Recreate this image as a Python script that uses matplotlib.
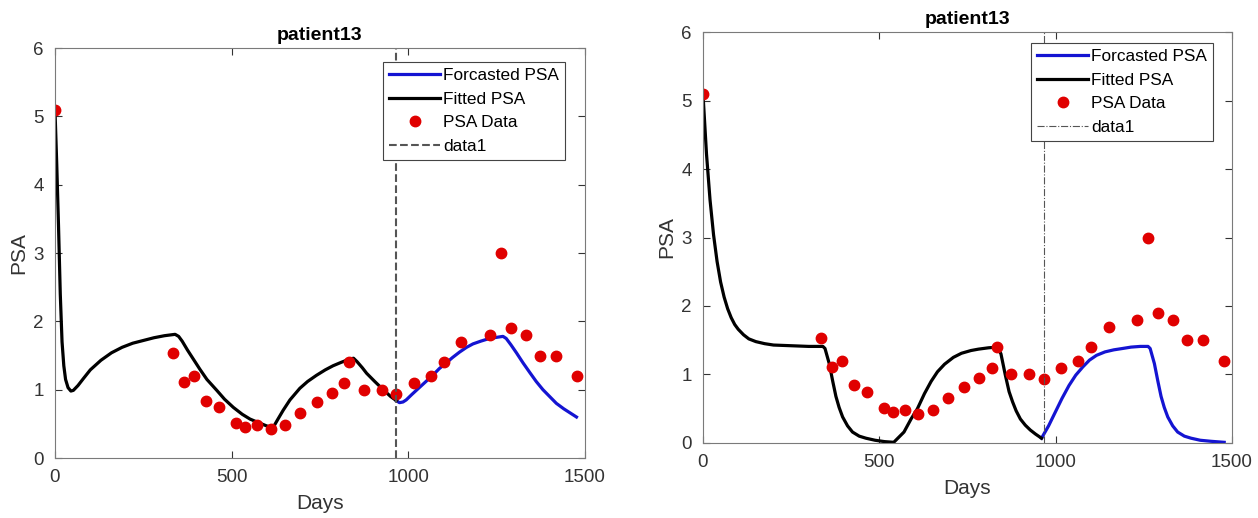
import numpy as np
from matplotlib import pyplot as plt

plt.rcParams['font.family'] = ['Liberation Sans', 'DejaVu Sans']

# PSA measurements (same in both panels)
data_days = [0, 335, 365, 393, 428, 464, 513, 539, 572, 611, 651, 694, 741, 784, 819,
             833, 874, 925, 966, 1015, 1063, 1101, 1150, 1232, 1262, 1291, 1332, 1373, 1418, 1478]
data_psa = [5.1, 1.53, 1.11, 1.2, 0.84, 0.75, 0.51, 0.45, 0.48, 0.43, 0.48, 0.66, 0.82, 0.95, 1.1,
            1.4, 1.0, 1.0, 0.94, 1.1, 1.2, 1.4, 1.7, 1.8, 3.0, 1.9, 1.8, 1.5, 1.5, 1.2]
split_day = 966

# left panel model curves
fit1_days = [0, 5, 10, 15, 20, 25, 30, 37, 45, 52, 65, 80, 100, 130, 160, 190, 220, 250, 280, 310, 340,
             350, 360, 375, 390, 410, 430, 458, 480, 505, 530, 552, 575, 599, 613,
             620, 630, 646, 665, 693, 715, 740, 765, 787, 810, 835, 845,
             855, 870, 882, 905, 929, 950, 966]
fit1_psa = [5.1, 4.3, 3.4, 2.4, 1.7, 1.35, 1.15, 1.03, 0.98, 0.99, 1.06, 1.16, 1.29, 1.43, 1.54, 1.62, 1.68, 1.72, 1.76, 1.79, 1.81,
            1.78, 1.71, 1.58, 1.46, 1.3, 1.15, 0.99, 0.86, 0.74, 0.64, 0.57, 0.52, 0.47, 0.45,
            0.47, 0.56, 0.7, 0.85, 1.02, 1.12, 1.21, 1.29, 1.35, 1.4, 1.45, 1.46,
            1.41, 1.32, 1.24, 1.12, 1.0, 0.9, 0.84]
fc1_days = [966, 975, 985, 994, 1010, 1031, 1050, 1069, 1088, 1107, 1125, 1145, 1165, 1183, 1205, 1230,
            1255, 1268, 1277, 1290, 1306, 1325, 1344, 1362, 1381, 1400, 1419, 1440, 1458, 1476]
fc1_psa = [0.84, 0.81, 0.82, 0.85, 0.93, 1.03, 1.12, 1.21, 1.31, 1.39, 1.47, 1.55, 1.62, 1.67, 1.71, 1.75,
           1.77, 1.78, 1.75, 1.66, 1.54, 1.39, 1.25, 1.12, 1.0, 0.9, 0.8, 0.72, 0.66, 0.6]

# right panel model curves
fit2_days = [0, 10, 20, 30, 40, 50, 60, 70, 80, 90, 100, 115, 130, 150, 175, 200, 250, 300, 340,
             346, 358, 368, 377, 386, 396, 410, 424, 443, 462, 488, 515, 541,
             570, 590, 608, 628, 647, 665, 685, 710, 733, 760, 781, 810, 836,
             845, 857, 868, 878, 888, 900, 914, 928, 943, 960]
fit2_psa = [5.1, 4.22, 3.55, 3.04, 2.65, 2.35, 2.13, 1.96, 1.83, 1.73, 1.66, 1.58, 1.52, 1.48, 1.45, 1.43, 1.42, 1.41, 1.41,
            1.38, 1.16, 0.9, 0.68, 0.52, 0.38, 0.25, 0.16, 0.1, 0.07, 0.04, 0.02, 0.01,
            0.16, 0.35, 0.5, 0.72, 0.9, 1.04, 1.15, 1.25, 1.31, 1.35, 1.37, 1.39, 1.4,
            1.3, 1.0, 0.75, 0.6, 0.47, 0.35, 0.26, 0.19, 0.13, 0.07]
fc2_days = [960, 980, 999, 1018, 1038, 1057, 1077, 1096, 1116, 1140, 1165, 1190, 1214, 1240, 1262,
            1268, 1280, 1290, 1299, 1308, 1318, 1332, 1346, 1365, 1384, 1410, 1440, 1478]
fc2_psa = [0.07, 0.25, 0.45, 0.65, 0.84, 0.99, 1.11, 1.21, 1.28, 1.33, 1.36, 1.38, 1.4, 1.41, 1.41,
           1.38, 1.16, 0.9, 0.68, 0.52, 0.38, 0.25, 0.16, 0.1, 0.07, 0.04, 0.025, 0.01]

fig = plt.figure(figsize=(12.58, 5.18), dpi=100)
ax1 = fig.add_axes([0.0437, 0.1158, 0.4213, 0.7915])
ax2 = fig.add_axes([0.5588, 0.1448, 0.4205, 0.7934])

panels = [(ax1, fit1_days, fit1_psa, fc1_days, fc1_psa, '--', 1.5, (1.0 - 20/530, 1.0 - 14/410)),
          (ax2, fit2_days, fit2_psa, fc2_days, fc2_psa, '-.', 0.8, (1.0 - 19/529, 1.0 - 11/411))]

for ax, fd, fp, cd, cp, ls, lw, anchor in panels:
    ax.plot(cd, cp, color='#1414d2', lw=2.3, label='Forcasted PSA')
    ax.plot(fd, fp, color='black', lw=2.3, label='Fitted PSA')
    ax.plot(data_days, data_psa, 'o', color='#e00000', ms=7.5, label='PSA Data')
    ax.axvline(split_day, color='#555555', linestyle=ls, lw=lw, label='data1')
    ax.set_xlim(0, 1500)
    ax.set_ylim(0, 6)
    ax.set_xticks([0, 500, 1000, 1500])
    ax.set_yticks([0, 1, 2, 3, 4, 5, 6])
    ax.tick_params(direction='in', top=True, right=True, labelsize=13.5, colors='#333333', length=5, pad=8)
    for s in ax.spines.values():
        s.set_color('#7a7a7a')
    ax.set_xlabel('Days', fontsize=15, color='#333333', labelpad=6)
    ax.set_ylabel('PSA', fontsize=15, color='#333333')
    ax.set_title('patient13', fontsize=14, fontweight='bold', pad=6)
    leg = ax.legend(loc='upper right', bbox_to_anchor=anchor, fontsize=12.4, frameon=True,
                    fancybox=False, framealpha=1, edgecolor='#444444', handlelength=3.0,
                    borderpad=0.35, labelspacing=0.5, handletextpad=0.15, borderaxespad=0)
    leg.get_frame().set_linewidth(0.8)

plt.savefig('out.png', dpi=100)
